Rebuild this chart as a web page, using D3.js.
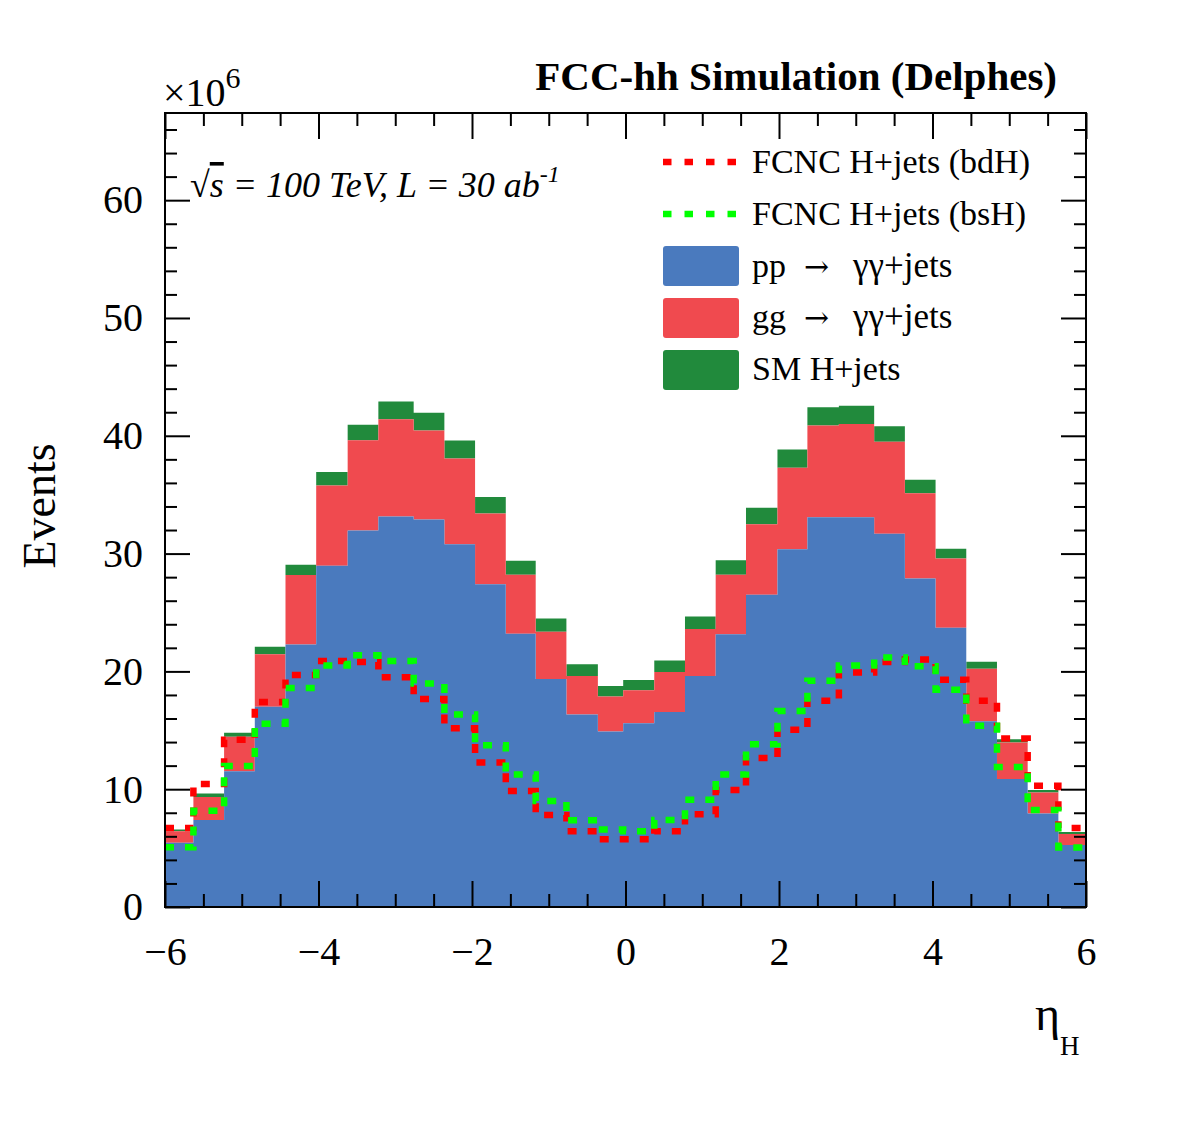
<!DOCTYPE html>
<html>
<head>
<meta charset="utf-8">
<script src="https://cdn.jsdelivr.net/npm/d3@7"></script>
<style>
  html, body { margin: 0; padding: 0; background: #fff; }
  svg { display: block; }
</style>
</head>
<body>
<svg id="chart" width="1182" height="1134"></svg>
<script>
// ---------- data ----------
const binEdges = [-6, -5.63, -5.23, -4.83, -4.43, -4.03, -3.62, -3.22, -2.76, -2.36, -1.96,
  -1.56, -1.17, -0.77, -0.36, -0.03, 0.375, 0.775, 1.175, 1.57, 1.98,
  2.37, 2.78, 3.24, 3.64, 4.04, 4.44, 4.84, 5.24, 5.64, 6];
// stacked components, in units of 10^6 events
const ppGammaGamma = [5.46, 7.39, 11.53, 17.0, 22.28, 28.96, 31.97, 33.14, 32.9, 30.8,
  27.39, 23.2, 19.36, 16.35, 14.9, 15.6, 16.55, 19.6, 23.15, 26.5,
  30.36, 33.08, 33.08, 31.68, 27.88, 23.7, 15.77, 10.86, 7.94, 5.26];
const ggGammaGamma = [0.96, 1.95, 2.92, 4.46, 5.9, 6.81, 7.65, 8.26, 7.54, 7.27,
  6.01, 5.0, 4.0, 3.25, 2.97, 2.8, 3.39, 4.0, 5.05, 6.0,
  6.92, 7.8, 7.92, 7.82, 7.24, 5.88, 4.46, 3.1, 1.78, 0.93];
const smHiggs = [0.15, 0.3, 0.35, 0.64, 0.87, 1.16, 1.31, 1.52, 1.52, 1.53,
  1.4, 1.2, 1.14, 1.0, 0.9, 0.87, 0.99, 1.07, 1.23, 1.4,
  1.55, 1.54, 1.54, 1.3, 1.14, 0.84, 0.59, 0.29, 0.21, 0.17];
// signal histograms (dashed)
const fcncBdH = [6.7, 10.45, 14.2, 17.4, 19.7, 20.88, 20.8, 19.5, 17.66, 15.18,
  12.26, 9.84, 7.82, 6.42, 5.75, 5.75, 6.42, 7.88, 9.93, 12.64,
  15.04, 17.5, 19.9, 20.8, 21.0, 19.3, 17.5, 14.3, 10.3, 6.7];
const fcncBsH = [5.08, 8.18, 11.97, 15.56, 18.6, 20.5, 21.37, 20.88, 18.98, 16.35,
  13.72, 11.24, 8.99, 7.36, 6.57, 6.42, 7.39, 9.11, 11.24, 13.81,
  16.64, 19.2, 20.5, 21.17, 20.44, 18.45, 15.39, 11.88, 8.23, 5.05];
const xMajorTicks = [-6, -4, -2, 0, 2, 4, 6];
const yMajorTicks = [0, 10, 20, 30, 40, 50, 60];
const legendLabels = ["FCNC H+jets (bdH)", "FCNC H+jets (bsH)", "pp", "gg", "SM H+jets"];

// ---------- setup ----------
const W = 1182, H = 1134;
const padL = 165, padR = 1086, padT = 113, padB = 907;
const serif = "'Liberation Serif', 'Times New Roman', Times, serif";
const colBlue = "#4a7abe", colRed = "#f04a4f", colGreen = "#218a3c";
const colDashRed = "#ff0000", colDashGreen = "#00ff00";

const svg = d3.select("#chart");
svg.append("rect").attr("width", W).attr("height", H).attr("fill", "#fff");

const x = d3.scaleLinear().domain([-6, 6]).range([padL, padR]);
const y = d3.scaleLinear().domain([0, 67.4]).range([padB, padT]);

// ---------- stacked histogram ----------
const n = ppGammaGamma.length;
const lvl1 = ppGammaGamma.slice();
const lvl2 = lvl1.map((v, i) => v + ggGammaGamma[i]);
const lvl3 = lvl2.map((v, i) => v + smHiggs[i]);
const zeros = lvl1.map(() => 0);

function stepPts(lo, hi) {
  const pts = [];
  for (let i = 0; i < n; i++) {
    pts.push({ x: binEdges[i], lo: lo[i], hi: hi[i] });
    pts.push({ x: binEdges[i + 1], lo: lo[i], hi: hi[i] });
  }
  return pts;
}
const area = d3.area().x(d => x(d.x)).y0(d => y(d.lo)).y1(d => y(d.hi));

const plot = svg.append("g");
plot.append("path").attr("d", area(stepPts(lvl2, lvl3))).attr("fill", colGreen);
plot.append("path").attr("d", area(stepPts(lvl1, lvl2))).attr("fill", colRed);
plot.append("path").attr("d", area(stepPts(zeros, lvl1))).attr("fill", colBlue);

// ---------- dashed signal histograms ----------
const line = d3.line().x(d => x(d.x)).y(d => y(d.hi));
plot.append("path").attr("d", line(stepPts(zeros, fcncBdH)))
  .attr("fill", "none").attr("stroke", colDashRed).attr("stroke-width", 6.5)
  .attr("stroke-dasharray", "9,11");
plot.append("path").attr("d", line(stepPts(zeros, fcncBsH)))
  .attr("fill", "none").attr("stroke", colDashGreen).attr("stroke-width", 6.5)
  .attr("stroke-dasharray", "9,11");

// ---------- axes ----------
const xMinor = d3.range(-6, 6.001, 0.5).filter(v => !xMajorTicks.includes(v));
const yMinor = d3.range(0, 67, 2).filter(v => !yMajorTicks.includes(v));

function styleAxis(g) {
  g.select(".domain").remove();
  g.selectAll(".tick line").attr("stroke-width", 2);
  g.attr("font-family", serif).attr("font-size", 40);
}

svg.append("g").attr("transform", `translate(0,${padB})`)
  .call(d3.axisBottom(x).tickValues(xMajorTicks).tickSize(-26).tickPadding(30).tickFormat(d3.format("d")))
  .call(styleAxis);
svg.append("g").attr("transform", `translate(0,${padB})`)
  .call(d3.axisBottom(x).tickValues(xMinor).tickSize(-13).tickFormat(""))
  .call(styleAxis);
svg.append("g").attr("transform", `translate(0,${padT})`)
  .call(d3.axisTop(x).tickValues(xMajorTicks).tickSize(-26).tickFormat(""))
  .call(styleAxis);
svg.append("g").attr("transform", `translate(0,${padT})`)
  .call(d3.axisTop(x).tickValues(xMinor).tickSize(-13).tickFormat(""))
  .call(styleAxis);

svg.append("g").attr("transform", `translate(${padL},0)`)
  .call(d3.axisLeft(y).tickValues(yMajorTicks).tickSize(-25).tickPadding(22).tickFormat(d3.format("d")))
  .call(styleAxis);
svg.append("g").attr("transform", `translate(${padL},0)`)
  .call(d3.axisLeft(y).tickValues(yMinor).tickSize(-12).tickFormat(""))
  .call(styleAxis);
svg.append("g").attr("transform", `translate(${padR},0)`)
  .call(d3.axisRight(y).tickValues(yMajorTicks).tickSize(-25).tickFormat(""))
  .call(styleAxis);
svg.append("g").attr("transform", `translate(${padR},0)`)
  .call(d3.axisRight(y).tickValues(yMinor).tickSize(-12).tickFormat(""))
  .call(styleAxis);

// frame
svg.append("rect").attr("x", padL).attr("y", padT)
  .attr("width", padR - padL).attr("height", padB - padT)
  .attr("fill", "none").attr("stroke", "#000").attr("stroke-width", 2);

// ---------- texts ----------
svg.append("text").attr("x", 1057).attr("y", 90).attr("text-anchor", "end")
  .attr("font-family", serif).attr("font-size", 41).attr("font-weight", "bold")
  .text("FCC-hh Simulation (Delphes)");

const mult = svg.append("text").attr("x", 163).attr("y", 106)
  .attr("font-family", serif).attr("font-size", 40);
mult.append("tspan").text("×10");
mult.append("tspan").attr("dy", -18).attr("font-size", 30).text("6");

const ener = svg.append("text").attr("x", 190).attr("y", 197)
  .attr("font-family", serif).attr("font-size", 36).attr("font-style", "italic");
ener.append("tspan").attr("font-style", "normal").text("√");
ener.append("tspan").attr("style", "text-decoration: overline").text("s");
ener.append("tspan").text(" = 100 TeV, L = 30 ab");
ener.append("tspan").attr("dy", -15).attr("font-size", 24).text("-1");

svg.append("text").attr("transform", "translate(55,506) rotate(-90)")
  .attr("text-anchor", "middle").attr("font-family", serif).attr("font-size", 46)
  .text("Events");

const xl = svg.append("text").attr("x", 1035).attr("y", 1030)
  .attr("font-family", serif).attr("font-size", 48);
xl.append("tspan").text("η");
xl.append("tspan").attr("dy", 25).attr("font-size", 27).text("H");

// ---------- legend ----------
const lg = svg.append("g").attr("font-family", serif).attr("font-size", 34);
[[162, colDashRed, legendLabels[0]], [214, colDashGreen, legendLabels[1]]].forEach(([cy, c, t]) => {
  lg.append("line").attr("x1", 663).attr("x2", 738).attr("y1", cy).attr("y2", cy)
    .attr("stroke", c).attr("stroke-width", 6.5).attr("stroke-dasharray", "8.5,13");
  lg.append("text").attr("x", 752).attr("y", cy + 11).text(t);
});
[[246, colBlue], [298, colRed], [350, colGreen]].forEach(([ty, c]) => {
  lg.append("rect").attr("x", 663).attr("y", ty).attr("width", 76).attr("height", 40)
    .attr("rx", 3).attr("fill", c);
});
function procRow(yb, a) {
  const t = lg.append("text").attr("y", yb);
  t.append("tspan").attr("x", 752).text(a);
  t.append("tspan").attr("x", 804).attr("font-family", "'DejaVu Serif', serif")
    .attr("font-size", 30).text("→");
  t.append("tspan").attr("x", 853).attr("font-size", 35).text("γγ+jets");
}
procRow(277, legendLabels[2]);
procRow(328, legendLabels[3]);
lg.append("text").attr("x", 752).attr("y", 380).text(legendLabels[4]);
</script>
</body>
</html>
